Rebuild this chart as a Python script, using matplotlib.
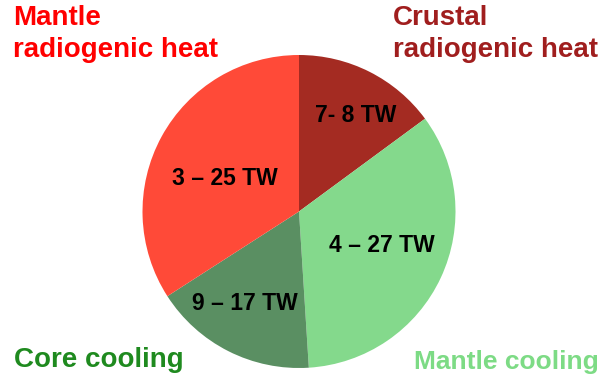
import matplotlib as mpl
mpl.use('Agg')
import matplotlib.pyplot as plt

plt.rcParams['font.family'] = ['Liberation Sans', 'DejaVu Sans']

# heat budget shares (angular size of each wedge, clockwise from 12 o'clock)
names = ["Crustal radiogenic heat", "Mantle cooling", "Core cooling", "Mantle radiogenic heat"]
shares = [14.9, 34.1, 16.9, 34.1]
ranges = ["7- 8 TW", "4 \u2013 27 TW", "9 \u2013 17 TW", "3 \u2013 25 TW"]
wedge_colors = ["#A42B22", "#84D98C", "#5A8F62", "#FF4A38"]

W, H = 600, 385
fig = plt.figure(figsize=(6, 3.85), dpi=100)
ax = fig.add_axes([0, 0, 1, 1])

cx, cy, r = 299, H - 211.5, 156.5
ax.pie(shares, colors=wedge_colors, startangle=90, counterclock=False,
       center=(cx, cy), radius=r, frame=True,
       wedgeprops=dict(linewidth=0))
ax.set_xlim(0, W)
ax.set_ylim(0, H)
ax.set_aspect('equal')
ax.axis('off')

# value labels (pixel positions from top-left)
label_pos = [(355.5, 116), (381.5, 246), (245, 303), (224.5, 178.5)]
for txt, (x, y) in zip(ranges, label_pos):
    ax.text(x, H - y, txt, ha='center', va='center', fontsize=16.5,
            fontweight='bold', color='black')

# category titles
ax.text(13, H - 5, "Mantle\nradiogenic heat", ha='left', va='top', fontsize=20,
        fontweight='bold', color='#FF0000', linespacing=1.3)
ax.text(393, H - 5, "Crustal\nradiogenic heat", ha='left', va='top', fontsize=20,
        fontweight='bold', color='#A01E1E', linespacing=1.3)
ax.text(14, H - 360, "Core cooling", ha='left', va='center', fontsize=20,
        fontweight='bold', color='#1F8A1F')
ax.text(414, H - 362, "Mantle cooling", ha='left', va='center', fontsize=19,
        fontweight='bold', color='#7DDB85')

plt.savefig("out.png", dpi=100)
plt.close()
